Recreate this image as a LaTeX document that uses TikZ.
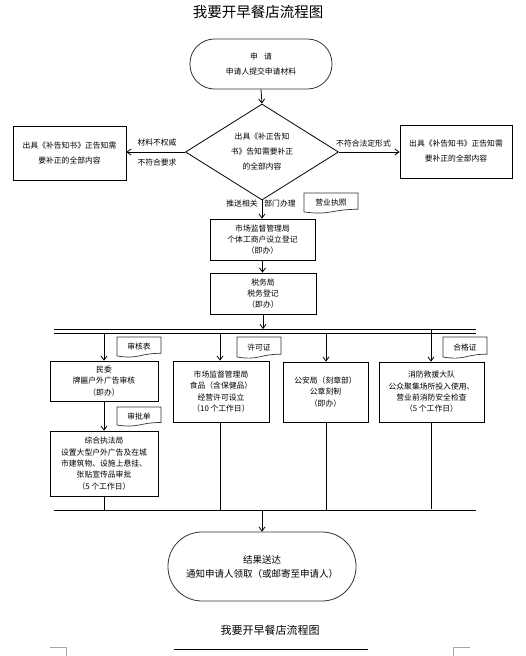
\documentclass[tikz,border=0pt]{standalone}
\usepackage{fontspec}
\setmainfont{Noto Sans CJK SC}
\usetikzlibrary{shapes.geometric,arrows.meta}
\newcommand\docnote[6]{%
  \draw[docline] (#2,#3) -- (#4,#3) -- (#4,{#3+0.802*#5})
    .. controls ({(#2+#4)/2},{#3+0.802*#5}) and ({(#2+#4)/2},{#3+1.107*#5}) .. (#2,{#3+0.934*#5}) -- cycle;
  \node[lbl] (#1) at ({(#2+#4)/2},{#3+0.47*#5}) {#6};
}
\begin{document}
\begin{tikzpicture}[x=1pt,y=-1pt,
  box/.style={draw, line width=0.8pt, inner sep=0pt, align=center, font=\fontsize{7.8}{11.3}\selectfont},
  term/.style={draw=black!80, line width=0.8pt, inner sep=0pt, align=center},
  lbl/.style={inner sep=0pt, font=\fontsize{7.8}{10}\selectfont},
  arr/.style={-{Straight Barb[length=4pt,width=6pt]}, line width=0.8pt},
  busline/.style={line width=0.9pt},
  docline/.style={line width=0.7pt, draw=black!80},
  corner/.style={line width=0.6pt, draw=black!35}]
\useasboundingbox (0,0) rectangle (525,656);

% title
\node[inner sep=0pt, font=\fontsize{14.5}{16}\selectfont] (title) at (258,12) {我要开早餐店流程图};

% start
\node[term, rounded corners=24.5pt, minimum width=142pt, minimum height=50pt,
      font=\fontsize{7.8}{15}\selectfont] (start) at (261,64) {申\hspace{0.8em}请\\申请人提交申请材料};

% diamond
\node[diamond, draw, line width=0.8pt, inner sep=0pt, aspect=1.6, minimum width=153pt, minimum height=96pt,
      align=center, font=\fontsize{7.8}{15}\selectfont] (dec) at (262,152) {出具《补正告知\\书》告知需要补正\\的全部内容};

% side boxes
\node[box, minimum width=113pt, minimum height=54pt, font=\fontsize{7.8}{15}\selectfont] (lbox) at (69.5,153) {出具《补告知书》正告知需\\要补正的全部内容};
\node[box, minimum width=112pt, minimum height=53pt, font=\fontsize{7.8}{15}\selectfont] (rbox) at (456,151.5) {出具《补告知书》正告知需\\要补正的全部内容};

% main boxes
\node[box, minimum width=105pt, minimum height=41pt] (b1) at (262.5,239.5) {市场监督管理局\\个体工商户设立登记\\（即办）};
\node[box, minimum width=106pt, minimum height=41pt] (b2) at (263,293.5) {税务局\\税务登记\\（即办）};

\node[box, minimum width=108pt, minimum height=40pt] (bA) at (104,381) {民委\\牌匾户外广告审核\\（即办）};
\node[box, minimum width=108pt, minimum height=65pt] (bB) at (104,463.5) {综合执法局\\设置大型户外广告及在城\\市建筑物、设施上悬挂、\\张贴宣传品审批\\（5 个工作日）};
\node[box, minimum width=96pt, minimum height=61pt] (bC) at (221,391.5) {市场监督管理局\\食品（含保健品）\\经营许可设立\\（10 个工作日）};
\node[box, minimum width=85pt, minimum height=60pt] (bD) at (325.5,392) {公安局（刻章部）\\公章刻制\\（即办）};
\node[box, minimum width=105pt, minimum height=60pt] (bE) at (431.5,392) {消防救援大队\\公众聚集场所投入使用、\\营业前消防安全检查\\（5 个工作日）};

% end
\node[term, rounded corners=34pt, minimum width=188pt, minimum height=69pt,
      font=\fontsize{9.5}{14}\selectfont] (end) at (262,566.5) {结果送达\\通知申请人领取（或邮寄至申请人）};

% document notes
\docnote{dyy}{304}{193}{358}{20.3}{营业执照}
\docnote{dsh}{117}{337}{161}{20.3}{审核表}
\docnote{dsp}{117}{407}{161}{19.3}{审批单}
\docnote{dxk}{237}{337}{281}{21.4}{许可证}
\docnote{dhg}{443}{337}{487}{21.4}{合格证}

% labels
\node[lbl] (l1) at (157,143) {材料不权威};
\node[lbl] (l2) at (157,163) {不符合要求};
\node[lbl] (l3) at (363.5,144) {不符合法定形式};
\node[lbl] (l4) at (242,204) {推送相关};
\node[lbl] (l5) at (280,204) {部门办理};

% bus coordinates
\coordinate (busAL) at (54,329);
\coordinate (busAR) at (476,329);
\coordinate (busBL) at (54,333);
\coordinate (busBR) at (476,333);
\coordinate (busCL) at (54,510);
\coordinate (busCR) at (476,510);
\draw[busline] (busAL) -- (busAR);
\draw[busline] (busBL) -- (busBR);
\draw[busline] (busCL) -- (busCR);

% connectors
\draw[arr] (start.south) -- (dec.north);
\draw[arr] (dec.west) -- (dec.west -| lbox.east);
\draw[arr] (dec.east) -- (dec.east -| rbox.west);
\draw[arr] (dec.south) -- (dec.south |- b1.north);
\draw[arr] (b1.south) -- (b1.south |- b2.north);
\draw[arr] (b2.south) -- (b2.south |- busAL);

\draw[arr] (bA.north |- busBL) -- (bA.north);
\draw[arr] (bA.south) -- (bB.north);
\draw[arr] (220,0 |- busBL) -- (220,0 |- bC.north);
\draw[arr] (326,0 |- busBL) -- (326,0 |- bD.north);
\draw[arr] (431,0 |- busAL) -- (431,0 |- bE.north);

\draw[busline] (bB.south) -- (bB.south |- busCL);
\draw[busline] (220,0 |- bC.south) -- (220,0 |- busCL);
\draw[busline] (326,0 |- bD.south) -- (326,0 |- busCL);
\draw[busline] (431,0 |- bE.south) -- (431,509);
\draw[arr] (end.north |- busCL) -- (end.north);

% footer
\node[inner sep=0pt, font=\fontsize{11}{13}\selectfont] (footer) at (270,630) {我要开早餐店流程图};
\coordinate (hl) at (174,649);
\coordinate (hr) at (368,649);
\draw[line width=0.9pt] (hl) -- (hr);
\draw[corner] (50,647) -- (66,647) -- (66,656);
\draw[corner] (470,647) -- (453,647) -- (453,656);
\end{tikzpicture}
\end{document}
